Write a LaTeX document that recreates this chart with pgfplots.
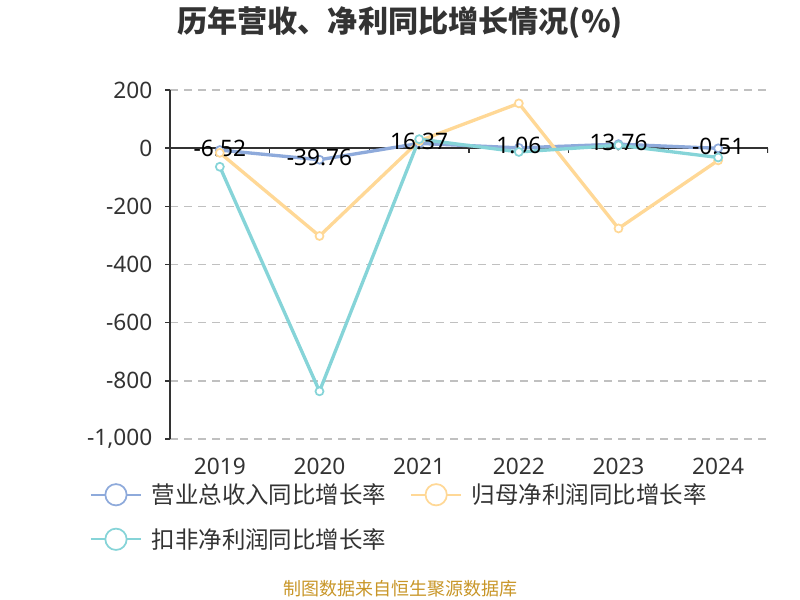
\documentclass[border=0pt]{standalone}
\usepackage{fontspec}
\setmainfont{Noto Sans}
\newfontfamily\cjk{Noto Sans CJK SC}
\usepackage{pgfplots}
\pgfplotsset{compat=1.18}
\definecolor{cblue}{RGB}{142,170,219}
\definecolor{corange}{RGB}{255,216,150}
\definecolor{cteal}{RGB}{134,212,216}
\definecolor{c333}{RGB}{51,51,51}
\definecolor{cfoot}{RGB}{200,150,40}
\definecolor{cgrid}{RGB}{192,192,192}
\begin{document}
\begin{tikzpicture}
\path[use as bounding box] (0pt,0pt) rectangle (600pt,450pt);
\node[font=\cjk\bfseries\fontsize{22.6}{26}\selectfont, text=c333] at (300pt,433pt) {历年营收、净利同比增长情况(\%)};
\node[font=\cjk\fontsize{13.5}{15}\selectfont, text=cfoot] at (300pt,8.25pt) {制图数据来自恒生聚源数据库};
\begin{axis}[
  at={(127.5pt,120.75pt)}, anchor=south west,
  scale only axis, width=448.5pt, height=261.75pt,
  xmin=-0.5, xmax=5.5, ymin=-1000, ymax=200,
  axis lines*=left,
  x axis line style={draw=none},
  y axis line style={c333, line width=1.1pt},
  xtick={0,1,2,3,4,5},
  xticklabels={2019,2020,2021,2022,2023,2024},
  major x tick style={draw=none},
  ytick={-1000,-800,-600,-400,-200,0,200},
  major y tick style={c333, line width=1.1pt},
  tick align=outside, major tick length=3.75pt,
  ymajorgrids,
  major grid style={cgrid, line width=1.2pt, dash pattern=on 6pt off 4.5pt},
  tick label style={font=\fontsize{17}{20}\selectfont, text=c333},
  xticklabel style={yshift=-7pt},
  yticklabel style={xshift=-6pt},
  /pgf/number format/.cd, 1000 sep={,}, assume math mode=true, /pgfplots/.cd,
  legend columns=2,
  legend cell align=left,
  legend style={at={(rel axis cs:-0.134,-0.12)}, anchor=north west, draw=none, fill=none,
    font=\cjk\fontsize{17.6}{20}\selectfont, text=c333, inner sep=0pt, row sep=13pt,
    /tikz/every even column/.append style={column sep=16pt}},
  legend image code/.code={\path[draw=none, fill=none] (0pt,0pt) -- (43.5pt,0pt); \draw[#1, solid, line width=1.3pt] (0pt,0pt) -- (37.5pt,0pt); \draw[#1, solid, line width=1.3pt, fill=white] (18.75pt,0pt) circle (8pt);},
]
\draw[c333, line width=1.1pt] (axis cs:-0.5,0) -- (axis cs:5.5,0);
\pgfplotsinvokeforeach{0.5,1.5,2.5,3.5,4.5,5.5}{\draw[c333, line width=1.1pt] (axis cs:#1,0) -- ++(0pt,-3.75pt);}
\addplot[cblue, line width=2.5pt, mark=*, mark size=3pt, mark options={fill=white, line width=1.3pt, solid},
  point meta=explicit symbolic, nodes near coords,
  every node near coord/.append style={font=\fontsize{17}{20}\selectfont, text=black, anchor=center, yshift=1.5pt}]
  coordinates {(0,-6.52)[-6.52] (1,-39.76)[-39.76] (2,16.37)[16.37] (3,1.06)[1.06] (4,13.76)[13.76] (5,-0.51)[-0.51]};
\addlegendentry{营业总收入同比增长率}
\addplot[corange, line width=2.5pt, mark=*, mark size=3pt, mark options={fill=white, line width=1.3pt, solid}]
  coordinates {(0,-16) (1,-302) (2,25) (3,154) (4,-276) (5,-42)};
\addlegendentry{归母净利润同比增长率}
\addplot[cteal, line width=2.5pt, mark=*, mark size=3pt, mark options={fill=white, line width=1.3pt, solid}]
  coordinates {(0,-64) (1,-836) (2,31) (3,-13) (4,10) (5,-32)};
\addlegendentry{扣非净利润同比增长率}
\node[rotate=90, text=red, font=\fontsize{10}{12}\selectfont] at (rel axis cs:-0.1087,0.885) {\%};
\end{axis}
\end{tikzpicture}
\end{document}
